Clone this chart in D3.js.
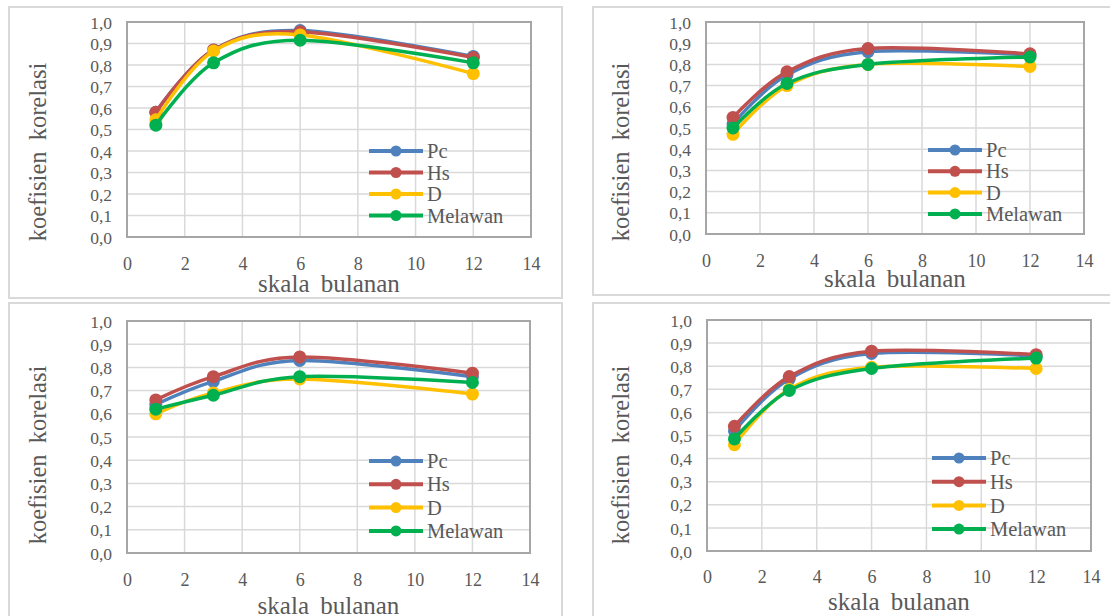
<!DOCTYPE html>
<html>
<head>
<meta charset="utf-8">
<script src="https://cdn.jsdelivr.net/npm/d3@7"></script>
<style>
    body { margin: 0; background: #fff; }
    text { font-family: 'Liberation Serif', 'Times New Roman', 'DejaVu Serif', serif; fill: #595959; }
    .axis path, .axis line { display: none; }
    .title { word-spacing: 5px; }
</style>
</head>
<body>
<svg id="chart" width="1110" height="616" font-family="Liberation Serif, Times New Roman, DejaVu Serif, serif"></svg>
<script>
// **** Data ****
var months = [1, 3, 6, 12];
var seriesNames = ['Pc', 'Hs', 'D', 'Melawan'];
var seriesColors = ['#4f81bd', '#c0504d', '#ffc000', '#00b050'];
var xTicks = [0, 2, 4, 6, 8, 10, 12, 14];
var yTicks = [0, 0.1, 0.2, 0.3, 0.4, 0.5, 0.6, 0.7, 0.8, 0.9, 1.0];

// values per series, in the order Pc, Hs, D, Melawan
var topLeftValues = [
    [0.58, 0.87, 0.96, 0.84],
    [0.58, 0.87, 0.955, 0.835],
    [0.545, 0.865, 0.94, 0.76],
    [0.52, 0.81, 0.915, 0.81]
];
var topRightValues = [
    [0.52, 0.75, 0.86, 0.845],
    [0.55, 0.765, 0.875, 0.85],
    [0.47, 0.70, 0.80, 0.79],
    [0.50, 0.71, 0.80, 0.835]
];
var bottomLeftValues = [
    [0.64, 0.74, 0.83, 0.76],
    [0.66, 0.76, 0.845, 0.775],
    [0.60, 0.69, 0.75, 0.685],
    [0.62, 0.68, 0.76, 0.735]
];
var bottomRightValues = [
    [0.52, 0.745, 0.855, 0.845],
    [0.54, 0.755, 0.865, 0.85],
    [0.46, 0.70, 0.795, 0.79],
    [0.485, 0.695, 0.79, 0.835]
];

var xTitle = 'skala bulanan';
var yTitle = 'koefisien korelasi';

// **** Layout of the four panels ****
var panels = [
    { values: topLeftValues, frame: [9, 7, 553, 291], plot: { l: 127, r: 531, t: 22, b: 237 },
      yTitlePos: [37, 152], tickY: 264, xTitleY: 283, legend: [369, 151, 21.5] },
    { values: topRightValues, frame: [593, 7, 530, 288], plot: { l: 706, r: 1084, t: 22, b: 234 },
      yTitlePos: [620, 152], tickY: 261, xTitleY: 278, legend: [928, 150, 21.3] },
    { values: bottomLeftValues, frame: [9, 303, 553, 330], plot: { l: 127, r: 530, t: 321, b: 553 },
      yTitlePos: [37, 455], tickY: 580, xTitleY: 605, legend: [369, 461, 23.3] },
    { values: bottomRightValues, frame: [593, 303, 530, 330], plot: { l: 707, r: 1091, t: 320, b: 551 },
      yTitlePos: [620, 455], tickY: 577, xTitleY: 601, legend: [932, 458, 23.7] }
];

var svg = d3.select('#chart');
var serif = "'Liberation Serif', 'Times New Roman', 'DejaVu Serif', serif";
var commaFormat = function(d) { return d3.format('.1f')(d).replace('.', ','); };

panels.forEach(function(p) {
    var g = svg.append('g');

    // outer frame
    g.append('rect')
        .attr('x', p.frame[0]).attr('y', p.frame[1])
        .attr('width', p.frame[2]).attr('height', p.frame[3])
        .attr('fill', 'none').attr('stroke', '#d9d9d9').attr('stroke-width', 2);

    var x = d3.scaleLinear().domain([0, 14]).range([p.plot.l, p.plot.r]);
    var y = d3.scaleLinear().domain([0, 1]).range([p.plot.b, p.plot.t]);

    // gridlines
    g.selectAll('.hgrid').data(yTicks).enter().append('line')
        .attr('x1', p.plot.l).attr('x2', p.plot.r)
        .attr('y1', d => y(d)).attr('y2', d => y(d))
        .attr('stroke', '#d9d9d9').attr('stroke-width', 1.5);
    g.selectAll('.vgrid').data(xTicks).enter().append('line')
        .attr('y1', p.plot.t).attr('y2', p.plot.b)
        .attr('x1', d => x(d)).attr('x2', d => x(d))
        .attr('stroke', '#d9d9d9').attr('stroke-width', 1.5);

    // plot area border
    g.append('rect')
        .attr('x', p.plot.l).attr('y', p.plot.t)
        .attr('width', p.plot.r - p.plot.l).attr('height', p.plot.b - p.plot.t)
        .attr('fill', 'none').attr('stroke', '#a6a6a6').attr('stroke-width', 2);

    // axes (labels only)
    var yAxis = g.append('g').attr('class', 'axis')
        .attr('transform', `translate(${p.plot.l}, 0)`)
        .call(d3.axisLeft(y).tickValues(yTicks).tickSize(0).tickPadding(15).tickFormat(commaFormat));
    yAxis.attr('font-family', serif);
    yAxis.selectAll('text').attr('font-size', 17.5).attr('dy', '0.35em')
        .style('font-family', serif).style('fill', '#595959');

    var xAxis = g.append('g').attr('class', 'axis')
        .attr('transform', `translate(0, ${p.plot.b})`)
        .call(d3.axisBottom(x).tickValues(xTicks).tickSize(0).tickFormat(d3.format('d')));
    xAxis.attr('font-family', serif);
    xAxis.selectAll('text').attr('font-size', 18)
        .attr('y', p.tickY - p.plot.b).attr('dy', '0.35em')
        .style('font-family', serif).style('fill', '#595959');

    // titles
    g.append('text')
        .attr('class', 'title')
        .attr('text-anchor', 'middle')
        .attr('x', (p.plot.l + p.plot.r) / 2).attr('y', p.xTitleY)
        .attr('dy', '0.35em').attr('font-size', 25)
        .style('font-family', serif)
        .text(xTitle);
    g.append('text')
        .attr('class', 'title')
        .attr('text-anchor', 'middle')
        .attr('transform', `translate(${p.yTitlePos[0]}, ${p.yTitlePos[1]}) rotate(-90)`)
        .attr('dy', '0.35em').attr('font-size', 24.5)
        .style('font-family', serif)
        .text(yTitle);

    // smoothed series lines with markers
    var line = d3.line()
        .x((d, i) => x(months[i]))
        .y(d => y(d))
        .curve(d3.curveCardinal.tension(0));

    p.values.forEach(function(vals, s) {
        g.append('path')
            .attr('d', line(vals))
            .attr('fill', 'none')
            .attr('stroke', seriesColors[s])
            .attr('stroke-width', 3.5)
            .attr('stroke-linecap', 'round');
        g.selectAll('.m' + s).data(vals).enter().append('circle')
            .attr('cx', (d, i) => x(months[i]))
            .attr('cy', d => y(d))
            .attr('r', 6.5)
            .attr('fill', seriesColors[s]);
    });

    // legend
    seriesNames.forEach(function(name, s) {
        var ly = p.legend[1] + s * p.legend[2];
        var lx = p.legend[0];
        g.append('line')
            .attr('x1', lx).attr('x2', lx + 54)
            .attr('y1', ly).attr('y2', ly)
            .attr('stroke', seriesColors[s]).attr('stroke-width', 4);
        g.append('circle')
            .attr('cx', lx + 27).attr('cy', ly).attr('r', 5.5)
            .attr('fill', seriesColors[s]);
        g.append('text')
            .attr('x', lx + 58).attr('y', ly)
            .attr('dy', '0.35em').attr('font-size', 20.5)
            .style('font-family', serif)
            .text(name);
    });
});
</script>
</body>
</html>
